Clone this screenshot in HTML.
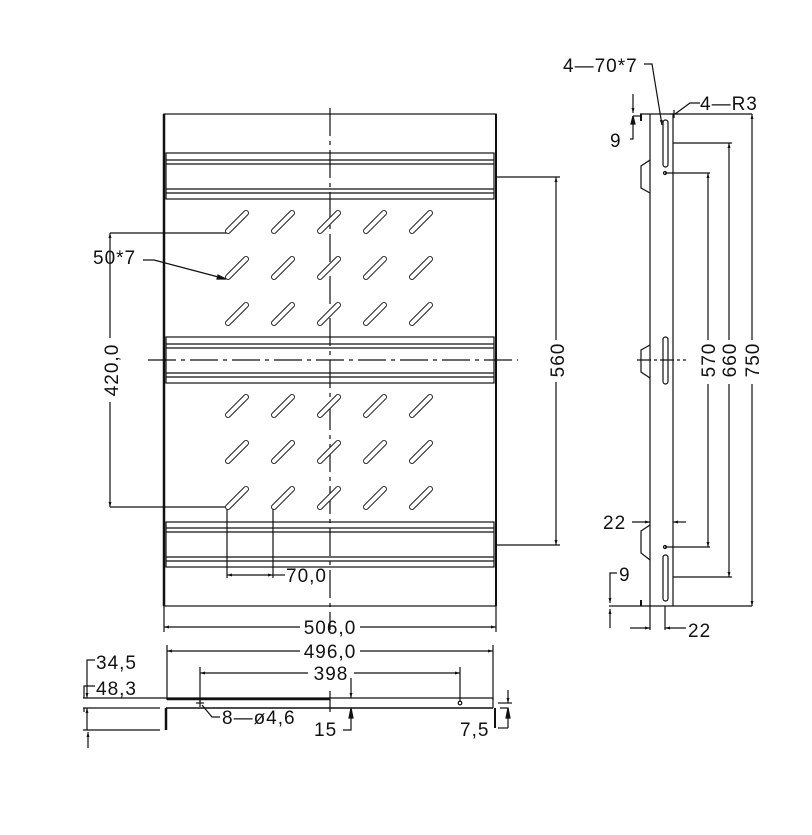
<!DOCTYPE html>
<html><head><meta charset="utf-8"><style>
html,body{margin:0;padding:0;background:#fff;}
svg{display:block}
text{font-family:"Liberation Sans",sans-serif;font-size:19px;letter-spacing:1px;fill:#111}
</style></head><body>
<svg width="812" height="835" viewBox="0 0 812 835" xmlns="http://www.w3.org/2000/svg">
<defs>
<marker id="a" viewBox="0 0 10 10" refX="10" refY="5" markerWidth="9" markerHeight="5" orient="auto-start-reverse" markerUnits="userSpaceOnUse"><path d="M0,2 L10,5 L0,8 z" fill="#111"/></marker>
<g id="s"><line x1="-9" y1="9" x2="9" y2="-9" stroke="#222" stroke-width="6" stroke-linecap="round"/><line x1="-9" y1="9" x2="9" y2="-9" stroke="#fff" stroke-width="4" stroke-linecap="round"/></g>
<g id="row"><use href="#s" x="237"/><use href="#s" x="283"/><use href="#s" x="329"/><use href="#s" x="375"/><use href="#s" x="421"/></g>
</defs>
<g stroke="#111" stroke-width="1.2" fill="none">
<rect x="164" y="114" width="332" height="492"/>
<line x1="164" y1="114" x2="164" y2="606" stroke-width="2.5"/>
<line x1="496" y1="114" x2="496" y2="606" stroke-width="2"/>
<rect x="166" y="153" width="328" height="46"/><line x1="166" y1="160" x2="494" y2="160"/><line x1="166" y1="164" x2="494" y2="164"/><line x1="166" y1="189" x2="494" y2="189"/><line x1="166" y1="193" x2="494" y2="193"/>
<rect x="166" y="337" width="328" height="46"/><line x1="166" y1="344" x2="494" y2="344"/><line x1="166" y1="348" x2="494" y2="348"/><line x1="166" y1="373" x2="494" y2="373"/><line x1="166" y1="377" x2="494" y2="377"/>
<rect x="166" y="522" width="328" height="45"/><line x1="166" y1="528" x2="494" y2="528"/><line x1="166" y1="532" x2="494" y2="532"/><line x1="166" y1="557" x2="494" y2="557"/><line x1="166" y1="561" x2="494" y2="561"/>
<line x1="330" y1="108" x2="330" y2="630" stroke-dasharray="28,5,4,5"/>
<line x1="148" y1="360" x2="518" y2="360" stroke-dasharray="28,5,4,5"/>
<line x1="496" y1="177" x2="560" y2="177"/><line x1="496" y1="545" x2="560" y2="545"/>
<line x1="556" y1="177" x2="556" y2="340" marker-start="url(#a)"/><line x1="556" y1="382" x2="556" y2="545" marker-end="url(#a)"/>
<line x1="110" y1="233" x2="226" y2="233"/><line x1="110" y1="507" x2="226" y2="507"/>
<line x1="110" y1="233" x2="110" y2="338" marker-start="url(#a)"/><line x1="110" y1="402" x2="110" y2="507" marker-end="url(#a)"/>
<polyline points="143,260 154,260 226,279"/>
<path d="M218,275 L226,279 L217,279 z" fill="#111"/>
<line x1="227" y1="507" x2="227" y2="578"/><line x1="273" y1="507" x2="273" y2="578"/>
<line x1="227" y1="575" x2="273" y2="575" marker-start="url(#a)" marker-end="url(#a)"/><line x1="273" y1="575" x2="285" y2="575"/>
<line x1="164" y1="606" x2="164" y2="632"/><line x1="496" y1="606" x2="496" y2="632"/>
<line x1="164" y1="627" x2="300" y2="627" marker-start="url(#a)"/><line x1="360" y1="627" x2="496" y2="627" marker-end="url(#a)"/>
<line x1="167" y1="645" x2="167" y2="700"/><line x1="493" y1="645" x2="493" y2="700"/>
<line x1="167" y1="651" x2="300" y2="651" marker-start="url(#a)"/><line x1="360" y1="651" x2="493" y2="651" marker-end="url(#a)"/>
<line x1="200" y1="667" x2="200" y2="702"/><line x1="460" y1="667" x2="460" y2="702"/>
<line x1="200" y1="673" x2="308" y2="673" marker-start="url(#a)"/><line x1="354" y1="673" x2="460" y2="673" marker-end="url(#a)"/>
<line x1="83" y1="698" x2="493" y2="698"/>
<line x1="167" y1="699" x2="330" y2="699" stroke-width="2.5"/>
<line x1="166" y1="708" x2="493" y2="708" stroke-width="1.5"/>
<line x1="83" y1="708" x2="160" y2="708"/>
<line x1="83" y1="730" x2="160" y2="730"/>
<line x1="166" y1="708" x2="166" y2="730" stroke-width="2.5"/>
<line x1="493" y1="698" x2="493" y2="708"/><line x1="495" y1="708" x2="495" y2="728" stroke-width="2"/>
<circle cx="460" cy="703" r="1.8"/>
<line x1="196" y1="703" x2="204" y2="703"/><line x1="200" y1="699" x2="200" y2="707"/>
<polyline points="202,705 212,717 220,717"/>
<line x1="330" y1="691" x2="330" y2="712"/>
<line x1="351" y1="678" x2="351" y2="698" marker-end="url(#a)"/><polyline points="351,710 351,730 343,730" /><path d="M349,718 L351,708 L353,718z" fill="#111"/>
<polyline points="95,660 87,660 87,698" marker-end="url(#a)"/>
<polyline points="95,686 84,686 84,698"/>
<line x1="84" y1="712" x2="84" y2="708"/>
<line x1="87" y1="708" x2="87" y2="730" marker-start="url(#a)"/>
<line x1="88" y1="748" x2="88" y2="732" marker-end="url(#a)"/>
<line x1="498" y1="703" x2="512" y2="703"/>
<line x1="508" y1="690" x2="508" y2="703" marker-end="url(#a)"/>
<polyline points="508,728 508,708 500,708" /><path d="M506,718 L508,708 L510,718z" fill="#111"/>
<line x1="498" y1="728" x2="508" y2="728"/>
<line x1="640" y1="114" x2="752" y2="114"/>
<line x1="640" y1="606" x2="752" y2="606"/>
<line x1="650" y1="114" x2="650" y2="606"/>
<line x1="673" y1="114" x2="673" y2="606"/>
<line x1="641" y1="114" x2="641" y2="121" stroke-width="2"/>
<line x1="641" y1="600" x2="641" y2="606" stroke-width="2"/>
<rect x="663" y="120" width="5" height="47" rx="2.5"/>
<rect x="663" y="337" width="5" height="47" rx="2.5"/>
<rect x="663" y="555" width="5" height="46" rx="2.5"/>
<circle cx="665" cy="173" r="1.5"/><circle cx="665" cy="547" r="1.5"/>
<polyline points="650,160 641,166 641,188 650,193"/>
<polyline points="650,345 641,350 641,372 650,378"/>
<polyline points="650,525 641,531 641,553 650,560"/>
<line x1="637" y1="360" x2="686" y2="360" stroke-dasharray="14,3,3,3"/>
<line x1="665" y1="173" x2="710" y2="173"/><line x1="673" y1="143" x2="732" y2="143"/>
<line x1="665" y1="547" x2="710" y2="547"/><line x1="673" y1="577" x2="732" y2="577"/>
<line x1="708" y1="173" x2="708" y2="340" marker-start="url(#a)"/><line x1="708" y1="384" x2="708" y2="547" marker-end="url(#a)"/>
<line x1="729" y1="143" x2="729" y2="340" marker-start="url(#a)"/><line x1="729" y1="384" x2="729" y2="577" marker-end="url(#a)"/>
<line x1="752" y1="114" x2="752" y2="340" marker-start="url(#a)"/><line x1="752" y1="384" x2="752" y2="606" marker-end="url(#a)"/>
<polyline points="644,64 652,64 662,125" marker-end="url(#a)"/>
<polyline points="700,103 690,103 675,114"/>
<line x1="670" y1="114" x2="678" y2="114"/><line x1="674" y1="110" x2="674" y2="118"/>
<line x1="633" y1="94" x2="633" y2="113" marker-end="url(#a)"/>
<polyline points="630,139 633,139 633,116" /><path d="M631,124 L633,116 L635,124z" fill="#111"/>
<line x1="633" y1="116" x2="640" y2="116"/>
<line x1="632" y1="522" x2="650" y2="522" marker-end="url(#a)"/><line x1="686" y1="522" x2="673" y2="522" marker-end="url(#a)"/>
<polyline points="617,573 610,573 610,603" marker-end="url(#a)"/>
<line x1="609" y1="606" x2="640" y2="606"/>
<line x1="610" y1="628" x2="610" y2="609" marker-end="url(#a)"/>
<line x1="630" y1="628" x2="650" y2="628" marker-end="url(#a)"/><line x1="686" y1="628" x2="665" y2="628" marker-end="url(#a)"/>
<line x1="665" y1="606" x2="665" y2="630"/><line x1="650" y1="606" x2="650" y2="630"/>
</g>
<use href="#row" y="222"/><use href="#row" y="268"/><use href="#row" y="314"/>
<use href="#row" y="406"/><use href="#row" y="452"/><use href="#row" y="498"/>
<text x="93" y="264">50*7</text>
<text transform="translate(118,370) rotate(-90)" text-anchor="middle">420,0</text>
<text transform="translate(564,360) rotate(-90)" text-anchor="middle">560</text>
<text transform="translate(715,360) rotate(-90)" text-anchor="middle">570</text>
<text transform="translate(736,360) rotate(-90)" text-anchor="middle">660</text>
<text transform="translate(759,360) rotate(-90)" text-anchor="middle">750</text>
<text x="286" y="582">70,0</text>
<text x="330" y="634" text-anchor="middle">506,0</text>
<text x="330" y="658" text-anchor="middle">496,0</text>
<text x="331" y="680" text-anchor="middle">398</text>
<text x="96" y="669">34,5</text>
<text x="96" y="695">48,3</text>
<text x="222" y="724">8—ø4,6</text>
<text x="314" y="736">15</text>
<text x="460" y="736">7,5</text>
<text x="563" y="72">4—70*7</text>
<text x="700" y="110">4—R3</text>
<text x="610" y="147">9</text>
<text x="603" y="529">22</text>
<text x="619" y="581">9</text>
<text x="688" y="637">22</text>
</svg>
</body></html>
